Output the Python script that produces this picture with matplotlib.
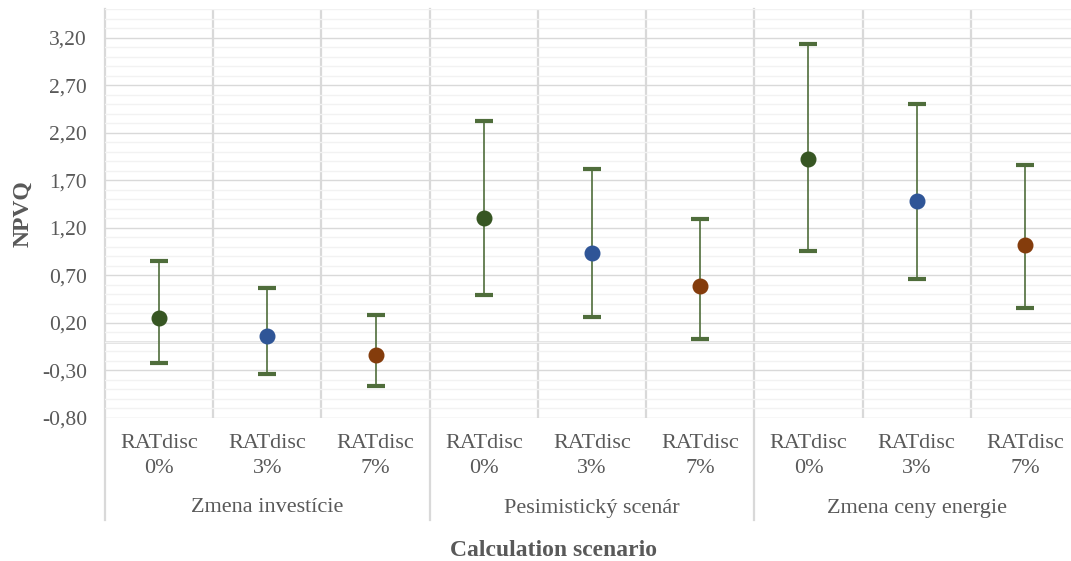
import numpy as np
import matplotlib
matplotlib.use("Agg")
import matplotlib.pyplot as plt

plt.rcParams['font.family'] = ['Liberation Serif', 'DejaVu Serif']

# NPVQ per scenario / discount rate: point estimate with lower and upper bound
groups = ["Zmena investície", "Pesimistický scenár", "Zmena ceny energie"]
rates = ["0%", "3%", "7%"]
npvq_mid = [0.25, 0.06, -0.14, 1.30, 0.94, 0.59, 1.93, 1.48, 1.02]
npvq_low = [-0.22, -0.34, -0.46, 0.49, 0.26, 0.03, 0.96, 0.66, 0.36]
npvq_high = [0.85, 0.57, 0.28, 2.33, 1.82, 1.29, 3.14, 2.50, 1.86]
ytick_vals = [-0.80, -0.30, 0.20, 0.70, 1.20, 1.70, 2.20, 2.70, 3.20]

rate_colors = ["#375623", "#2F5597", "#843C0C"]
text_col = "#595959"
grid_col = "#D9D9D9"

W, H = 1071, 561
fig = plt.figure(figsize=(W / 100, H / 100), dpi=100)
ax = fig.add_axes([105 / W, (H - 418) / H, (1079 - 105) / W, (418 - 9.3) / H])

n = len(npvq_mid)
x = np.arange(n) + 0.5
mid = np.array(npvq_mid)
lo = mid - np.array(npvq_low)
hi = np.array(npvq_high) - mid

ax.set_xlim(0, n)
ax.set_ylim(-0.80, 3.50)

# grid
ax.set_yticks(ytick_vals)
ax.set_yticklabels([f"{v:.2f}".replace(".", ",") for v in ytick_vals])
ax.set_yticks(np.arange(-0.80, 3.51, 0.1), minor=True)
ax.grid(axis="y", which="major", color=grid_col, lw=1.0, zorder=0)
ax.grid(axis="y", which="minor", color="#F2F2F2", lw=1.0, zorder=0)
ax.tick_params(axis="y", which="both", length=0, pad=13, labelsize=15.5, labelcolor=text_col)
ax.tick_params(axis="x", which="both", length=0, labelbottom=False)
for s in ax.spines.values():
    s.set_visible(False)
ax.axhline(0, color=grid_col, lw=1.8, zorder=1)

# category separators; group separators run down through the label area
xt = ax.get_xaxis_transform()
label_bottom = -(520 - 418) / (418 - 9.3)
for i in range(n + 1):
    if i % 3 == 0:
        ax.plot([i, i], [label_bottom, 1], transform=xt, color=grid_col,
                lw=1.6, clip_on=False, zorder=1)
    else:
        ax.axvline(i, color=grid_col, lw=1.6, zorder=1)

# error bars and points
_, caps, bars = ax.errorbar(x, mid, yerr=[lo, hi], fmt="none", ecolor="#4f6d3b",
                            elinewidth=1.2, capsize=6.2, capthick=3, zorder=3)
for c in caps:
    c.set_color("#375623")
for i in range(n):
    ax.plot(x[i], mid[i], "o", ms=10.5, color=rate_colors[i % 3], zorder=4)

# category labels
ph = 418 - 9.3
for i in range(n):
    ax.text(x[i], -(456 - 418) / ph, "RATdisc\n" + rates[i % 3], transform=xt,
            ha="center", va="center", fontsize=16, color=text_col, linespacing=1.45)
for g, name in enumerate(groups):
    ax.text(3 * g + 1.5, -(508 - 418) / ph, name, transform=xt,
            ha="center", va="center", fontsize=16, color=text_col)

fig.text(23 / W, 1 - 214 / H, "NPVQ", rotation=90, ha="center", va="center",
         fontsize=17, fontweight="bold", color=text_col)
fig.text(553 / W, 1 - 550 / H, "Calculation scenario", ha="center", va="center",
         fontsize=17, fontweight="bold", color=text_col)

fig.savefig("out.png", dpi=100)
